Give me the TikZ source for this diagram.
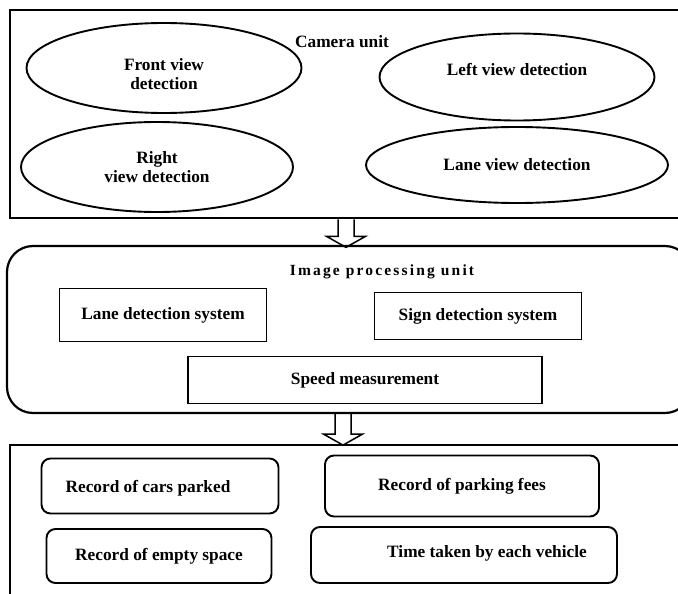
\documentclass[tikz,border=0pt]{standalone}
\usepackage{fontspec}
\setmainfont{Liberation Serif}
\usetikzlibrary{shapes.geometric,positioning}

\newcommand\boxfont{\fontsize{17.3}{19}\selectfont\bfseries}
\tikzset{
	unit/.style={draw,line width=2.2pt,inner sep=0pt},
	view/.style={draw,ellipse,line width=1.9pt,inner sep=0pt,align=center,font=\boxfont},
	sys/.style={draw,rectangle,line width=1.9pt,inner sep=0pt,font=\boxfont},
	rec/.style={draw,rounded corners=9pt,line width=1.9pt,inner sep=0pt,font=\boxfont},
	pics/hollowarrow/.style={code={
		\draw[line width=1.5pt,line join=miter] (-8,0) -- (-8,#1) -- (-19.5,#1) -- (0,#1+11) -- (19.5,#1) -- (8,#1) -- (8,0);
	}}
}

\begin{document}
\begin{tikzpicture}[x=1pt,y=-1pt]
	\clip (0,0) rectangle (678,594);
	\node[unit,line width=2.7pt,minimum width=700pt,minimum height=208pt] (cam) at (360,114) {};
	\node[font=\boxfont] (camlbl) at (342,42) {Camera unit};
	\node[view,minimum width=275pt,minimum height=90pt] (front) at (164,68) {};
	\node[font=\boxfont,align=center] (fronttxt) at (164,74) {Front view\\detection};
	\node[view,minimum width=275pt,minimum height=87pt] (left) at (517,77) {};
	\node[font=\boxfont] (lefttxt) at (517,69) {Left view detection};
	\node[view,minimum width=272pt,minimum height=90pt] (right) at (157,167) {Right\\view detection};
	\node[view,minimum width=302pt,minimum height=76pt] (lane) at (517,165) {Lane view detection};

	\node[unit,rounded corners=26pt,minimum width=684pt,minimum height=167pt] (ipu) at (349,329.5) {};
	\node[font=\fontsize{15.5}{18}\selectfont\bfseries\addfontfeature{LetterSpace=14}] (ipulbl) at (382,272) {Image processing unit};
	\node[sys,minimum width=207pt,minimum height=53pt] (lanesys) at (163,315) {Lane detection system};
	\node[sys,minimum width=207pt,minimum height=47pt] (signsys) at (478,316) {Sign detection system};
	\node[sys,minimum width=354pt,minimum height=47pt] (speed) at (365,380) {Speed measurement};

	\node[unit,minimum width=700pt,minimum height=180pt] (rec) at (360,535) {};
	\node[rec,minimum width=237pt,minimum height=55pt] (cars) at (160,486) {};
	\node[font=\boxfont] (carstxt) at (148,488) {Record of cars parked};
	\node[rec,minimum width=274pt,minimum height=61pt] (fees) at (462,486) {Record of parking fees};
	\node[rec,minimum width=225pt,minimum height=54pt] (empty) at (159,556) {Record of empty space};
	\node[rec,minimum width=306pt,minimum height=56pt] (time) at (464,555) {};
	\node[font=\boxfont] (timetxt) at (487,553) {Time taken by each vehicle};

	\coordinate (ax1) at (346,0);
	\coordinate (ax2) at (343,0);
	\pic at (cam.south -| ax1) {hollowarrow=17};
	\pic at (ipu.south -| ax2) {hollowarrow=20};
\end{tikzpicture}
\end{document}
